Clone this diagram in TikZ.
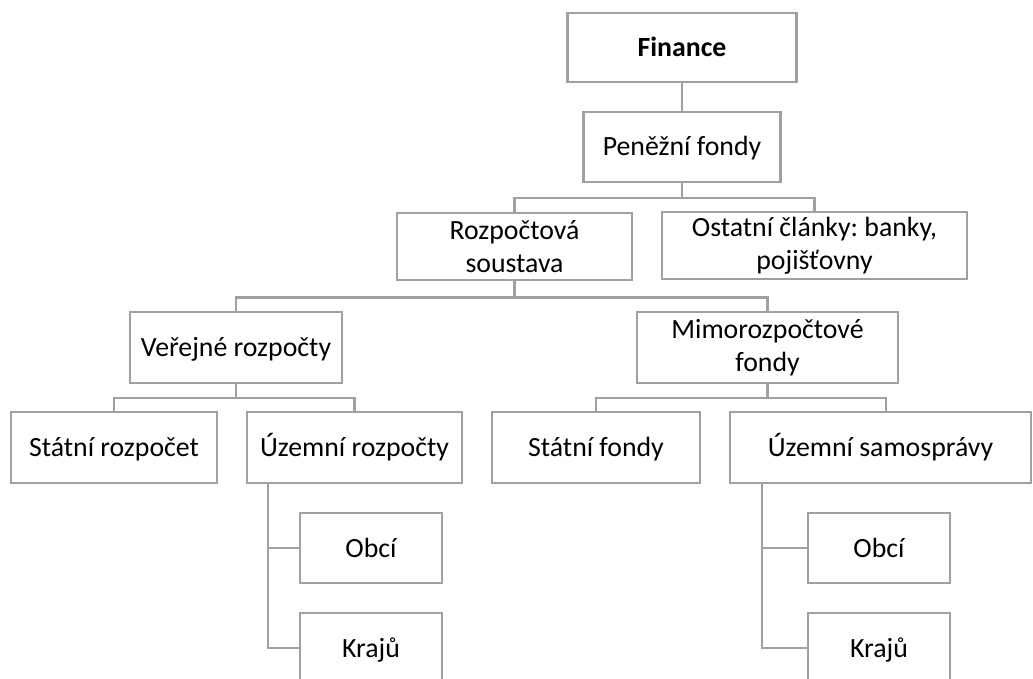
\documentclass[tikz,border=0pt]{standalone}
\usepackage{fontspec}
\setmainfont{Carlito}
\definecolor{linegray}{HTML}{A0A0A0}
\begin{document}
\frenchspacing
\begin{tikzpicture}[x=1pt,y=-1pt,
  box/.style={draw=linegray, line width=2.2pt, fill=white, inner sep=0pt, align=center,
    font=\fontsize{27.8}{33}\selectfont, text=black},
  one/.style={text height=18pt, text depth=0pt},
  conn/.style={draw=linegray, line width=2.2pt}]
\useasboundingbox (0,0) rectangle (1033,679);
\clip (0,0) rectangle (1033,679);
\node[box, one, minimum width=229pt, minimum height=69pt] (fin) at (682,47.5) {\textbf{Finance}};
\node[box, one, minimum width=197pt, minimum height=70pt] (pen) at (682,147) {Peněžní fondy};
\node[box, minimum width=235pt, minimum height=67pt] (roz) at (514.5,246.5) {Rozpočtová\\soustava};
\node[box, minimum width=305pt, minimum height=67pt] (ost) at (814.5,245.5) {Ostatní články: banky,\\pojišťovny};
\node[box, one, minimum width=212pt, minimum height=71pt] (ver) at (236,347.5) {Veřejné rozpočty};
\node[box, minimum width=261pt, minimum height=71pt] (mim) at (767.5,347.5) {Mimorozpočtové\\fondy};
\node[box, one, minimum width=206pt, minimum height=71pt] (str) at (114,447.5) {Státní rozpočet};
\node[box, one, minimum width=215pt, minimum height=71pt] (uzr) at (354.5,447.5) {Územní rozpočty};
\node[box, one, minimum width=208pt, minimum height=71pt] (stf) at (596,447.5) {Státní fondy};
\node[box, one, minimum width=301pt, minimum height=71pt] (uzs) at (880.5,447.5) {Územní samosprávy};
\node[box, one, minimum width=142pt, minimum height=70pt] (ob1) at (371,548) {Obcí};
\node[box, one, minimum width=142pt, minimum height=70pt] (kr1) at (371,648) {Krajů};
\node[box, one, minimum width=142pt, minimum height=70pt] (ob2) at (879,548) {Obcí};
\node[box, one, minimum width=142pt, minimum height=70pt] (kr2) at (879,648) {Krajů};
\draw[conn] (fin.south) -- (pen.north);
\draw[conn] (pen.south) -- (pen.south |- 0,198) -| (roz.north);
\draw[conn] (pen.south |- 0,198) -| (ost.north);
\draw[conn] (roz.south) -- (roz.south |- 0,297.5) -| (ver.north);
\draw[conn] (roz.south |- 0,297.5) -| (mim.north);
\draw[conn] (ver.south) -- (ver.south |- 0,398) -| (str.north);
\draw[conn] (ver.south |- 0,398) -| (uzr.north);
\draw[conn] (mim.south) -- (mim.south |- 0,398) -| (stf.north);
\draw[conn] (mim.south |- 0,398) -| ([xshift=5.5pt]uzs.north);
\coordinate (ul) at ([xshift=-86.5pt]uzr.south);
\coordinate (ur) at ([xshift=-118.5pt]uzs.south);
\draw[conn] (ul) |- (ob1.west);
\draw[conn] (ul) |- (kr1.west);
\draw[conn] (ur) |- (ob2.west);
\draw[conn] (ur) |- (kr2.west);
\end{tikzpicture}
\end{document}
